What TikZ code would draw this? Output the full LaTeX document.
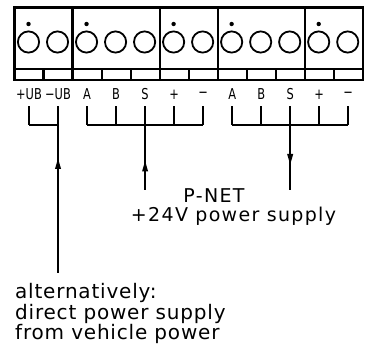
\documentclass[tikz,border=0pt]{standalone}
\usepackage{fontspec}
\setmainfont{DejaVu Sans}
\newfontfamily\txtfont[LetterSpace=4]{DejaVu Sans}
\newfontfamily\txtfontb[LetterSpace=7]{DejaVu Sans}
\newfontfamily\lblfont[FakeStretch=0.76]{DejaVu Sans}
\usetikzlibrary{arrows.meta}
\tikzset{
  frame/.style={line width=2.1pt},
  wire/.style={line width=1.9pt},
  term/.style={line width=1.8pt},
  lbl/.style={inner sep=0pt, font=\lblfont\fontsize{15}{15}\selectfont},
  txt/.style={inner sep=0pt, font=\txtfont\fontsize{20}{17.8}\selectfont},
  arr/.style={line width=1.9pt, -{Triangle[length=11pt,width=5.5pt]}},
}
\begin{document}
\begin{tikzpicture}[x=1pt,y=-1pt]
\useasboundingbox (0,0) rectangle (365,350);
\def\w{29.02}
\def\xo{14.5}
% housing
\draw[frame] (\xo,7.5) rectangle (362.7,80);
\draw[frame] (\xo,69) -- (362.7,69);
\foreach \i in {2,5,7,10} \draw[frame] ({\xo+\w*\i},7.5) -- ({\xo+\w*\i},80);
\foreach \i in {1,3,4,6,8,9,11} \draw[frame] ({\xo+\w*\i},69) -- ({\xo+\w*\i},80);
% screw terminals
\foreach \i in {1,...,12} \draw[term] ({\xo+\w*(\i-0.5)-0.5},42) circle (10.6);
\foreach \i in {1,3,6,8,11} \fill ({\xo+\w*(\i-0.5)-0.5},24) circle (2.2);
% labels
\foreach \i/\t in {1/+UB,2/−UB,3/A,4/B,5/S,6/+,7/−,8/A,9/B,10/S,11/+,12/−}{
  \node[lbl] (l\i) at ({\xo+\w*(\i-0.5)},94.5) {\t};
  \coordinate (t\i) at ({\xo+\w*(\i-0.5)},106.5);
  \coordinate (b\i) at ({\xo+\w*(\i-0.5)},125);
  \draw[wire] (t\i) -- (b\i);
}
\draw[wire] (b1) -- (b2);
\draw[wire] (b3) -- (b7);
\draw[wire] (b8) -- (b12);
% feeds
\coordinate (e2) at ({\xo+\w*1.5},273);
\coordinate (e5) at ({\xo+\w*4.5},190);
\coordinate (e10) at ({\xo+\w*9.5},190);
\draw[wire] (b2) -- (e2);
\draw[wire] (b5) -- (e5);
\draw[wire] (b10) -- (e10);
\draw[arr] ({\xo+\w*1.5},169) -- ({\xo+\w*1.5},158);
\draw[arr] ({\xo+\w*4.5},170) -- ({\xo+\w*4.5},160.5);
\draw[arr] ({\xo+\w*9.5},153.5) -- ({\xo+\w*9.5},165);
% texts
\node[txt, align=center, anchor=base, font=\txtfontb\fontsize{19}{18.5}\selectfont] (ps) at (233.5,221.5) {P-NET\hspace*{39pt}\\+24V power supply};
\node[txt, anchor=west, align=left] (alt) at (15,313.5) {alternatively:\\direct power supply\\from vehicle power};
\end{tikzpicture}
\end{document}
